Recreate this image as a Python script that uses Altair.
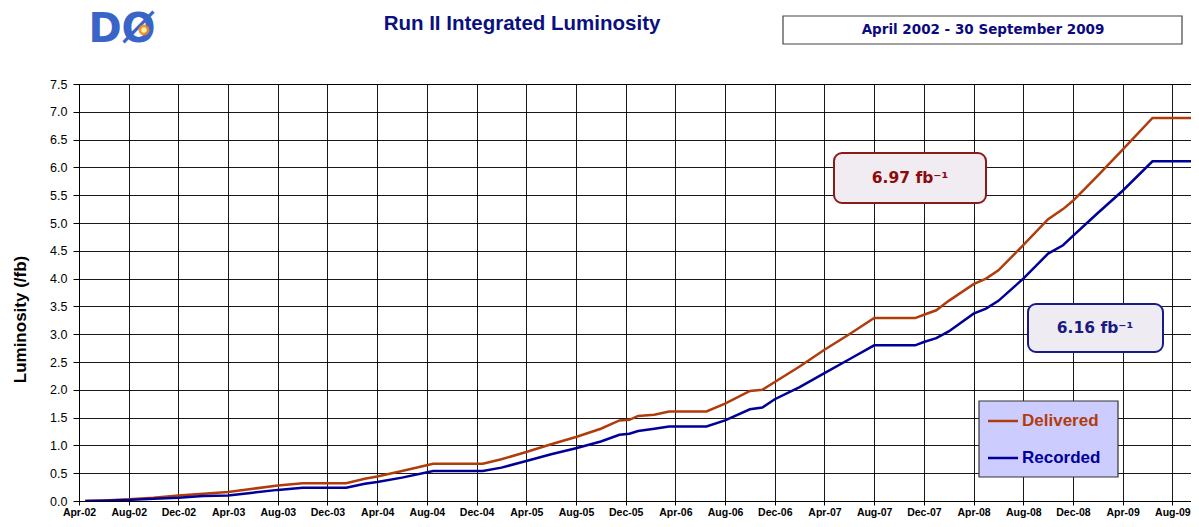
import json
import altair as alt
import pandas as pd

# months since April 2002 (Apr-02 = 0)
months = [0.5, 2, 4, 6, 8, 10, 12, 14, 16, 18, 21.5, 23, 24, 26, 28.5, 32.5, 34, 36, 38, 40,
          42, 43.5, 44.3, 45, 46.3, 47.5, 50.5, 52, 54, 55, 56, 58, 60, 62, 64, 67.3, 68, 69,
          70, 72, 73, 74, 76, 78, 79.2, 80, 82, 84, 86.4, 90]
delivered = [0.0, 0.01, 0.03, 0.06, 0.10, 0.13, 0.16, 0.22, 0.28, 0.32, 0.32, 0.40, 0.44, 0.54,
             0.67, 0.67, 0.75, 0.88, 1.02, 1.15, 1.30, 1.45, 1.46, 1.53, 1.55, 1.61, 1.61, 1.75,
             1.98, 2.00, 2.14, 2.42, 2.72, 3.00, 3.29, 3.29, 3.35, 3.43, 3.60, 3.90, 4.00, 4.15,
             4.60, 5.07, 5.25, 5.40, 5.85, 6.32, 6.89, 6.89]
recorded = [0.0, 0.005, 0.02, 0.04, 0.06, 0.09, 0.10, 0.15, 0.20, 0.24, 0.24, 0.31, 0.34, 0.42,
            0.54, 0.54, 0.60, 0.72, 0.84, 0.95, 1.07, 1.19, 1.21, 1.26, 1.30, 1.34, 1.34, 1.45,
            1.65, 1.68, 1.83, 2.05, 2.30, 2.55, 2.80, 2.80, 2.86, 2.93, 3.05, 3.37, 3.46, 3.60,
            4.00, 4.45, 4.60, 4.77, 5.18, 5.58, 6.11, 6.11]
series_names = ["Delivered", "Recorded"]
series_colors = ["#b03c0c", "#000099"]

tick_values = list(range(0, 89, 4))
tick_labels = ["Apr-02", "Aug-02", "Dec-02", "Apr-03", "Aug-03", "Dec-03", "Apr-04", "Aug-04",
               "Dec-04", "Apr-05", "Aug-05", "Dec-05", "Apr-06", "Aug-06", "Dec-06", "Apr-07",
               "Aug-07", "Dec-07", "Apr-08", "Aug-08", "Dec-08", "Apr-09", "Aug-09"]
y_ticks = [0.0, 0.5, 1.0, 1.5, 2.0, 2.5, 3.0, 3.5, 4.0, 4.5, 5.0, 5.5, 6.0, 6.5, 7.0, 7.5]

n = len(months)
df = pd.DataFrame({
    "month": months * 2,
    "lum": delivered + recorded,
    "series": [series_names[0]] * n + [series_names[1]] * n,
})

label_expr = json.dumps(tick_labels) + "[round(datum.value/4)]"

FONT = "Liberation Sans"

lines = alt.Chart(df).mark_line(strokeWidth=2.5, clip=True).encode(
    x=alt.X("month:Q",
            scale=alt.Scale(domain=[0, 89.5], nice=False, zero=False),
            axis=alt.Axis(values=tick_values, labelExpr=label_expr, title=None,
                          labelFontWeight="bold", labelFontSize=10.5, labelPadding=2,
                          tickSize=4, labelOverlap=False, labelFlush=False)),
    y=alt.Y("lum:Q",
            scale=alt.Scale(domain=[0, 7.5], nice=False),
            axis=alt.Axis(values=y_ticks, format=".1f", title="Luminosity (/fb)",
                          labelFontSize=12.5, labelPadding=6, tickSize=6,
                          titleFontSize=17, titleFontWeight="bold", titleColor="#000",
                          titleX=-59, titleY=235, titleAngle=270,
                          titleAlign="center", titleBaseline="middle")),
    color=alt.Color("series:N", scale=alt.Scale(domain=series_names, range=series_colors),
                    legend=None),
)

one = alt.Data(values=[{}])


def rect(x, x2, y, y2, fill, stroke, sw=1.0, r=0):
    return alt.Chart(one).mark_rect(fill=fill, stroke=stroke, strokeWidth=sw,
                                    cornerRadius=r).encode(
        x=alt.value(x), x2=alt.value(x2), y=alt.value(y), y2=alt.value(y2))


def text(t, x, y, size, color, weight="bold", font=FONT, align="center", style="normal"):
    return alt.Chart(one).mark_text(text=t, fontSize=size, color=color, fontWeight=weight,
                                    font=font, align=align, baseline="middle",
                                    fontStyle=style).encode(
        x=alt.value(x), y=alt.value(y))


title = text("Run II Integrated Luminosity", 443, -60, 20.5, "#0a1080")
date_box = rect(704, 1103, -68, -40, "white", "#444444", 1.2)
date_txt = text("April 2002 - 30 September 2009", 904, -54, 13.5, "#0a0a80", font="DejaVu Sans")

logo_txt = text("DØ", 43, -54, 40, "#3a64c8", font="DejaVu Sans")
logo_glow = alt.Chart(one).mark_point(filled=True, size=120, color="#f08a20", opacity=0.9).encode(
    x=alt.value(65), y=alt.value(-54))
logo_core = alt.Chart(one).mark_point(filled=True, size=30, color="#fff2a0", opacity=1).encode(
    x=alt.value(65), y=alt.value(-54))

box1 = rect(755, 907, 69, 119, "#f0ecf2", "#8b1a1a", 2, 8)
box1_txt = text("6.97 fb⁻¹", 831, 94, 15.5, "#8b0a0a", font="DejaVu Sans")
box2 = rect(949, 1084, 220, 268, "#efebf3", "#1a1a8b", 2, 8)
box2_txt = text("6.16 fb⁻¹", 1016, 244, 15.5, "#1a1a80", font="DejaVu Sans")

leg_box = rect(900, 1039, 317, 393, "#ccccff", "#333333", 1.2)
leg_line1 = alt.Chart(one).mark_rule(color=series_colors[0], strokeWidth=2.5).encode(
    x=alt.value(909), x2=alt.value(939), y=alt.value(337))
leg_line2 = alt.Chart(one).mark_rule(color=series_colors[1], strokeWidth=2.5).encode(
    x=alt.value(909), x2=alt.value(939), y=alt.value(374))
leg_t1 = text(series_names[0], 943, 337, 17, series_colors[0], align="left")
leg_t2 = text(series_names[1], 943, 374, 17, series_colors[1], align="left")

chart = alt.layer(
    lines, title, date_box, date_txt, logo_txt, logo_glow, logo_core,
    box1, box1_txt, box2, box2_txt, leg_box, leg_line1, leg_line2, leg_t1, leg_t2,
).properties(
    width=1112, height=417,
    autosize=alt.AutoSizeParams(type="none"),
    padding={"left": 71, "top": 76, "right": 0, "bottom": 18},
    background="white",
).configure_axis(
    gridColor="#000000", gridWidth=1, gridOpacity=0.9,
    domainColor="#000000", tickColor="#000000", labelColor="#000000",
    labelFont=FONT, titleFont=FONT,
).configure_view(stroke="#000000", strokeWidth=1)

chart.save("out.html", embed_options={"renderer": "svg", "actions": False})
